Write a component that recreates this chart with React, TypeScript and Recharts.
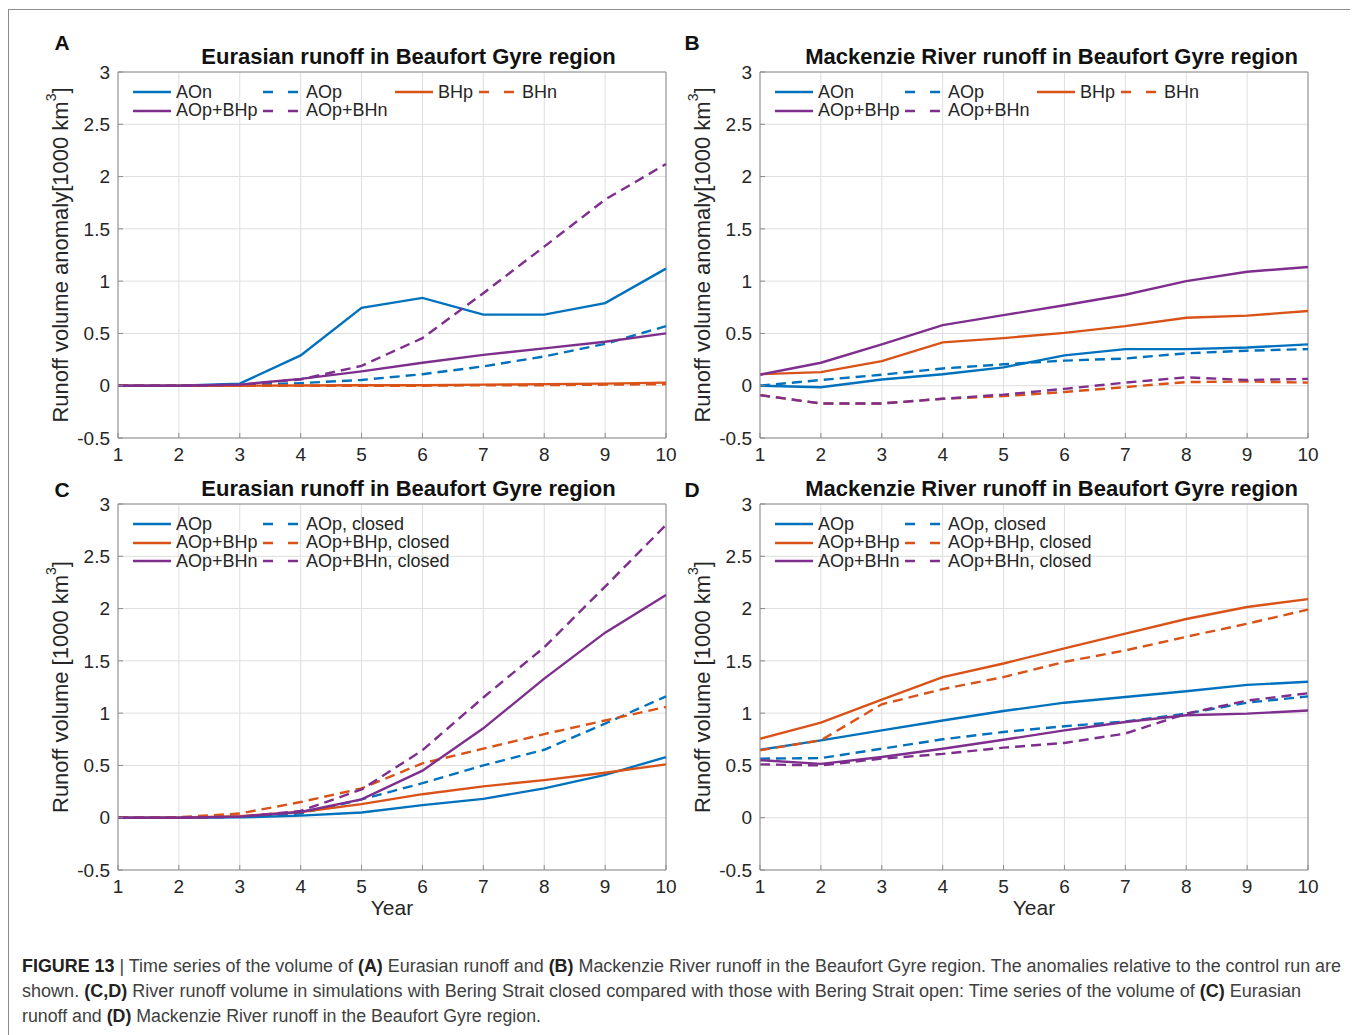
import { LineChart, Line, XAxis, YAxis, CartesianGrid, Legend, ReferenceLine } from 'recharts';

// MATLAB default colours
const BLUE = '#0072BD';
const ORANGE = '#D95319';
const PURPLE = '#7E2F8E';

const years = [1, 2, 3, 4, 5, 6, 7, 8, 9, 10];
const yTicks = [-0.5, 0, 0.5, 1, 1.5, 2, 2.5, 3];

// (A) Eurasian runoff anomaly in Beaufort Gyre region
const eurAOn = [0, 0, 0.02, 0.29, 0.745, 0.84, 0.68, 0.68, 0.79, 1.12];
const eurAOp = [0, 0, 0.005, 0.025, 0.055, 0.11, 0.185, 0.28, 0.4, 0.57];
const eurBHp = [0, 0, 0, 0.002, 0.005, 0.005, 0.01, 0.015, 0.02, 0.03];
const eurBHn = [0, 0, 0, 0, 0, 0, 0.005, 0.005, 0.01, 0.015];
const eurAOpBHp = [0, 0, 0.01, 0.065, 0.137, 0.22, 0.295, 0.357, 0.42, 0.5];
const eurAOpBHn = [0, 0, 0.01, 0.06, 0.19, 0.455, 0.885, 1.33, 1.78, 2.12];

// (B) Mackenzie River runoff anomaly
const mackAOn = [0, -0.015, 0.06, 0.11, 0.175, 0.29, 0.35, 0.35, 0.365, 0.395];
const mackAOp = [0, 0.055, 0.105, 0.165, 0.205, 0.24, 0.26, 0.31, 0.335, 0.35];
const mackBHp = [0.11, 0.13, 0.235, 0.415, 0.455, 0.505, 0.57, 0.65, 0.67, 0.715];
const mackBHn = [-0.09, -0.17, -0.17, -0.125, -0.1, -0.06, -0.013, 0.035, 0.04, 0.03];
const mackAOpBHp = [0.105, 0.22, 0.395, 0.58, 0.675, 0.77, 0.87, 1.0, 1.09, 1.135];
const mackAOpBHn = [-0.09, -0.17, -0.17, -0.125, -0.085, -0.03, 0.03, 0.08, 0.055, 0.065];

// (C) Eurasian runoff volume, open vs closed Bering Strait
const eurOpenAOp = [0, 0, 0.003, 0.02, 0.05, 0.12, 0.18, 0.28, 0.41, 0.58];
const eurClosedAOp = [0, 0, 0.01, 0.04, 0.175, 0.33, 0.5, 0.65, 0.9, 1.16];
const eurOpenAOpBHp = [0, 0, 0.015, 0.055, 0.13, 0.225, 0.3, 0.36, 0.43, 0.51];
const eurClosedAOpBHp = [0, 0.005, 0.04, 0.15, 0.28, 0.52, 0.66, 0.8, 0.93, 1.06];
const eurOpenAOpBHn = [0, 0, 0.01, 0.055, 0.175, 0.45, 0.855, 1.33, 1.77, 2.13];
const eurClosedAOpBHn = [0, 0, 0.01, 0.065, 0.27, 0.645, 1.15, 1.63, 2.21, 2.8];

// (D) Mackenzie River runoff volume, open vs closed
const mackOpenAOp = [0.65, 0.74, 0.835, 0.93, 1.02, 1.1, 1.155, 1.21, 1.27, 1.3];
const mackClosedAOp = [0.565, 0.57, 0.66, 0.75, 0.82, 0.875, 0.92, 0.995, 1.1, 1.16];
const mackOpenAOpBHp = [0.755, 0.91, 1.13, 1.345, 1.475, 1.62, 1.76, 1.9, 2.015, 2.09];
const mackClosedAOpBHp = [0.645, 0.74, 1.085, 1.23, 1.345, 1.49, 1.6, 1.73, 1.855, 1.99];
const mackOpenAOpBHn = [0.55, 0.515, 0.58, 0.66, 0.745, 0.835, 0.915, 0.98, 0.995, 1.025];
const mackClosedAOpBHn = [0.51, 0.5, 0.565, 0.61, 0.67, 0.715, 0.805, 0.995, 1.12, 1.19];

type Series = { key: string; name: string; color: string; dashed: boolean; values: number[] };

const seriesA: Series[] = [
    { key: 'aon', name: 'AOn', color: BLUE, dashed: false, values: eurAOn },
    { key: 'aop', name: 'AOp', color: BLUE, dashed: true, values: eurAOp },
    { key: 'bhp', name: 'BHp', color: ORANGE, dashed: false, values: eurBHp },
    { key: 'bhn', name: 'BHn', color: ORANGE, dashed: true, values: eurBHn },
    { key: 'aopbhp', name: 'AOp+BHp', color: PURPLE, dashed: false, values: eurAOpBHp },
    { key: 'aopbhn', name: 'AOp+BHn', color: PURPLE, dashed: true, values: eurAOpBHn },
];

const seriesB: Series[] = [
    { key: 'aon', name: 'AOn', color: BLUE, dashed: false, values: mackAOn },
    { key: 'aop', name: 'AOp', color: BLUE, dashed: true, values: mackAOp },
    { key: 'bhp', name: 'BHp', color: ORANGE, dashed: false, values: mackBHp },
    { key: 'bhn', name: 'BHn', color: ORANGE, dashed: true, values: mackBHn },
    { key: 'aopbhp', name: 'AOp+BHp', color: PURPLE, dashed: false, values: mackAOpBHp },
    { key: 'aopbhn', name: 'AOp+BHn', color: PURPLE, dashed: true, values: mackAOpBHn },
];

const seriesC: Series[] = [
    { key: 'aop', name: 'AOp', color: BLUE, dashed: false, values: eurOpenAOp },
    { key: 'aopC', name: 'AOp, closed', color: BLUE, dashed: true, values: eurClosedAOp },
    { key: 'aopbhp', name: 'AOp+BHp', color: ORANGE, dashed: false, values: eurOpenAOpBHp },
    { key: 'aopbhpC', name: 'AOp+BHp, closed', color: ORANGE, dashed: true, values: eurClosedAOpBHp },
    { key: 'aopbhn', name: 'AOp+BHn', color: PURPLE, dashed: false, values: eurOpenAOpBHn },
    { key: 'aopbhnC', name: 'AOp+BHn, closed', color: PURPLE, dashed: true, values: eurClosedAOpBHn },
];

const seriesD: Series[] = [
    { key: 'aop', name: 'AOp', color: BLUE, dashed: false, values: mackOpenAOp },
    { key: 'aopC', name: 'AOp, closed', color: BLUE, dashed: true, values: mackClosedAOp },
    { key: 'aopbhp', name: 'AOp+BHp', color: ORANGE, dashed: false, values: mackOpenAOpBHp },
    { key: 'aopbhpC', name: 'AOp+BHp, closed', color: ORANGE, dashed: true, values: mackClosedAOpBHp },
    { key: 'aopbhn', name: 'AOp+BHn', color: PURPLE, dashed: false, values: mackOpenAOpBHn },
    { key: 'aopbhnC', name: 'AOp+BHn, closed', color: PURPLE, dashed: true, values: mackClosedAOpBHn },
];

const TEXT = '#262626';
const AXIS = '#8c8c8c';
const GRID = '#dedede';

const toRows = (series: Series[]) =>
    years.map((year, i) => {
        const row: Record<string, number> = { year };
        series.forEach((s) => { row[s.key] = s.values[i]; });
        return row;
    });

function LegendBox({ series, columns }: { series: Series[]; columns: string }) {
    return (
        <div style={{ display: 'grid', gridTemplateColumns: columns, fontSize: 18, lineHeight: '18.4px', color: TEXT }}>
            {series.map((s) => (
                <div key={s.key} style={{ display: 'flex', alignItems: 'center', whiteSpace: 'nowrap' }}>
                    <svg width={38} height={10} style={{ marginRight: 5, flex: 'none' }}>
                        <line x1={0} y1={5} x2={38} y2={5} stroke={s.color} strokeWidth={2.5}
                            strokeDasharray={s.dashed ? '10 15' : undefined} />
                    </svg>
                    <span>{s.name}</span>
                </div>
            ))}
        </div>
    );
}

const yTitle = (text: string) => (props: any) => {
    const { x, y, height } = props.viewBox;
    const cx = x + 12;
    const cy = y + height / 2;
    return (
        <text x={cx} y={cy} transform={`rotate(-90 ${cx} ${cy})`} textAnchor="middle"
            dominantBaseline="central" fontSize={22} fill={TEXT}>
            {text}[1000 km<tspan dy={-9} fontSize={14}>3</tspan><tspan dy={9}>]</tspan>
        </text>
    );
};

const xTitle = (props: any) => {
    const { x, y, width } = props.viewBox;
    return (
        <text x={x + width / 2} y={y + 37} textAnchor="middle" dominantBaseline="central" fontSize={21} fill={TEXT}>
            Year
        </text>
    );
};

function Panel({ series, yLabel, columns, showYear }: { series: Series[]; yLabel: string; columns: string; showYear: boolean }) {
    return (
        <LineChart width={653} height={466} data={toRows(series)} margin={{ top: 40, right: 20, bottom: 0, left: 15 }}>
            <CartesianGrid stroke={GRID} />
            <XAxis
                dataKey="year"
                type="number"
                domain={[1, 10]}
                ticks={years}
                interval={0}
                height={60}
                axisLine={{ stroke: AXIS }}
                tickLine={{ stroke: AXIS }}
                tickSize={-5}
                tickMargin={15}
                tick={{ fill: TEXT, fontSize: 19 }}
                label={showYear ? xTitle : undefined}
            />
            <YAxis
                type="number"
                domain={[-0.5, 3]}
                ticks={yTicks}
                interval={0}
                allowDataOverflow
                width={70}
                axisLine={{ stroke: AXIS }}
                tickLine={{ stroke: AXIS }}
                tickSize={-5}
                tickMargin={13}
                tick={{ fill: TEXT, fontSize: 19 }}
                label={yTitle(yLabel)}
            />
            <ReferenceLine y={3} stroke={AXIS} />
            <ReferenceLine x={10} stroke={AXIS} />
            {series.map((s) => (
                <Line
                    key={s.key}
                    type="linear"
                    dataKey={s.key}
                    name={s.name}
                    stroke={s.color}
                    strokeWidth={2.4}
                    strokeDasharray={s.dashed ? '10 6' : undefined}
                    dot={false}
                    activeDot={false}
                    isAnimationActive={false}
                />
            ))}
            <Legend
                layout="horizontal"
                verticalAlign="middle"
                content={() => <LegendBox series={series} columns={columns} />}
                wrapperStyle={{ top: 51, left: 100, width: 520, height: 60 }}
            />
        </LineChart>
    );
}

const letterStyle = { position: 'absolute' as const, fontWeight: 'bold', fontSize: 21, lineHeight: 1, transform: 'translate(-50%, -50%)', color: '#111' };
const titleStyle = { position: 'absolute' as const, fontWeight: 'bold', fontSize: 22, lineHeight: 1, whiteSpace: 'nowrap' as const, transform: 'translate(-50%, -50%)', color: '#111' };

export default function App() {
    return (
        <div style={{ position: 'relative', width: 1342, height: 1027, fontFamily: '"Liberation Sans", Arial, sans-serif', color: TEXT }}>
            <style>{'html,body{overflow:hidden}'}</style>
            <div style={{ position: 'absolute', left: 0, top: 1, width: 1348, height: 1045, border: '1px solid #8c8c8c', boxSizing: 'border-box' }} />

            <div style={{ ...letterStyle, left: 54, top: 34 }}>A</div>
            <div style={{ ...letterStyle, left: 684, top: 34 }}>B</div>
            <div style={{ ...letterStyle, left: 54, top: 481 }}>C</div>
            <div style={{ ...letterStyle, left: 684, top: 481 }}>D</div>

            <div style={{ ...titleStyle, left: 400.5, top: 49 }}>Eurasian runoff in Beaufort Gyre region</div>
            <div style={{ ...titleStyle, left: 1043.5, top: 49 }}>Mackenzie River runoff in Beaufort Gyre region</div>
            <div style={{ ...titleStyle, left: 400.5, top: 481 }}>Eurasian runoff in Beaufort Gyre region</div>
            <div style={{ ...titleStyle, left: 1043.5, top: 481 }}>Mackenzie River runoff in Beaufort Gyre region</div>

            <div style={{ position: 'absolute', left: 25, top: 24 }}>
                <Panel series={seriesA} yLabel="Runoff volume anomaly" columns="130px 132px 84px auto" showYear={false} />
            </div>
            <div style={{ position: 'absolute', left: 667, top: 24 }}>
                <Panel series={seriesB} yLabel="Runoff volume anomaly" columns="130px 132px 84px auto" showYear={false} />
            </div>
            <div style={{ position: 'absolute', left: 25, top: 456 }}>
                <Panel series={seriesC} yLabel="Runoff volume " columns="130px auto" showYear />
            </div>
            <div style={{ position: 'absolute', left: 667, top: 456 }}>
                <Panel series={seriesD} yLabel="Runoff volume " columns="130px auto" showYear />
            </div>

            <svg style={{ position: 'absolute', left: 14, top: 942 }} width={1330} height={85} fontSize={18} fill="#404040">
                <text x={0} y={22} textLength={1319} lengthAdjust="spacingAndGlyphs">
                    <tspan fontWeight="bold" fill="#222">FIGURE 13</tspan> | Time series of the volume of <tspan fontWeight="bold" fill="#222">(A)</tspan> Eurasian runoff and <tspan fontWeight="bold" fill="#222">(B)</tspan> Mackenzie River runoff in the Beaufort Gyre region. The anomalies relative to the control run are
                </text>
                <text x={0} y={47} textLength={1279} lengthAdjust="spacingAndGlyphs">
                    shown. <tspan fontWeight="bold" fill="#222">(C,D)</tspan> River runoff volume in simulations with Bering Strait closed compared with those with Bering Strait open: Time series of the volume of <tspan fontWeight="bold" fill="#222">(C)</tspan> Eurasian
                </text>
                <text x={0} y={72} textLength={519} lengthAdjust="spacingAndGlyphs">
                    runoff and <tspan fontWeight="bold" fill="#222">(D)</tspan> Mackenzie River runoff in the Beaufort Gyre region.
                </text>
            </svg>
        </div>
    );
}
